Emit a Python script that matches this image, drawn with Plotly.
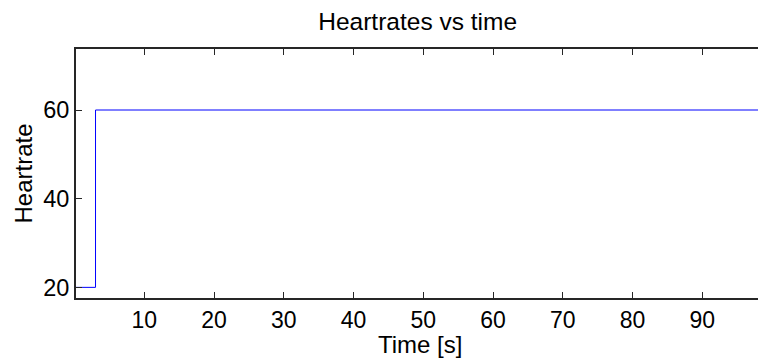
import plotly.graph_objects as go

# Heart rate record: time stamps (s) and rate, drawn as a step trace
time_s = [0.2, 3.0, 98.0]
heartrate = [20, 60, 60]

x_ticks = [10, 20, 30, 40, 50, 60, 70, 80, 90]
y_ticks = [20, 40, 60]

FONT = "Liberation Sans, Arial, sans-serif"
AXIS_COLOR = "#262626"

fig = go.Figure()
fig.add_trace(go.Scatter(
    x=time_s, y=heartrate,
    mode="lines", line=dict(color="#0000ff", width=1, shape="hv"),
    showlegend=False, hoverinfo="skip",
))

fig.update_layout(
    width=758, height=359,
    margin=dict(l=76, r=0, t=49, b=61),
    paper_bgcolor="white", plot_bgcolor="white",
    font=dict(family=FONT, color="black", size=24),
    title=dict(text="Heartrates vs time", x=0.551, xanchor="center",
               y=1 - 21 / 359, yanchor="middle", yref="container",
               font=dict(size=24.5, family=FONT, color="black")),
    annotations=[dict(
        text="Time [s]", xref="paper", yref="paper", x=0.5044, y=-0.188,
        xanchor="center", yanchor="middle", showarrow=False,
        font=dict(size=24, family=FONT, color="black"),
    )],
)
fig.update_xaxes(
    range=[0.2, 98.0], tickvals=x_ticks, ticktext=[str(v) for v in x_ticks],
    ticks="inside", ticklen=6, tickwidth=1, tickcolor=AXIS_COLOR,
    showline=True, linecolor=AXIS_COLOR, linewidth=2, mirror="ticks",
    showgrid=False, zeroline=False,
    tickfont=dict(size=23, family=FONT, color="black"),
)
fig.update_yaxes(
    range=[17.6, 73.76], tickvals=y_ticks, ticktext=[str(v) for v in y_ticks],
    ticks="inside", ticklen=6, tickwidth=1, tickcolor=AXIS_COLOR,
    showline=True, linecolor=AXIS_COLOR, linewidth=2, mirror=False,
    showgrid=False, zeroline=False,
    tickfont=dict(size=23.5, family=FONT, color="black"),
    title=dict(text="Heartrate", standoff=4, font=dict(size=24, family=FONT, color="black")),
)

fig.write_html("out.html")
